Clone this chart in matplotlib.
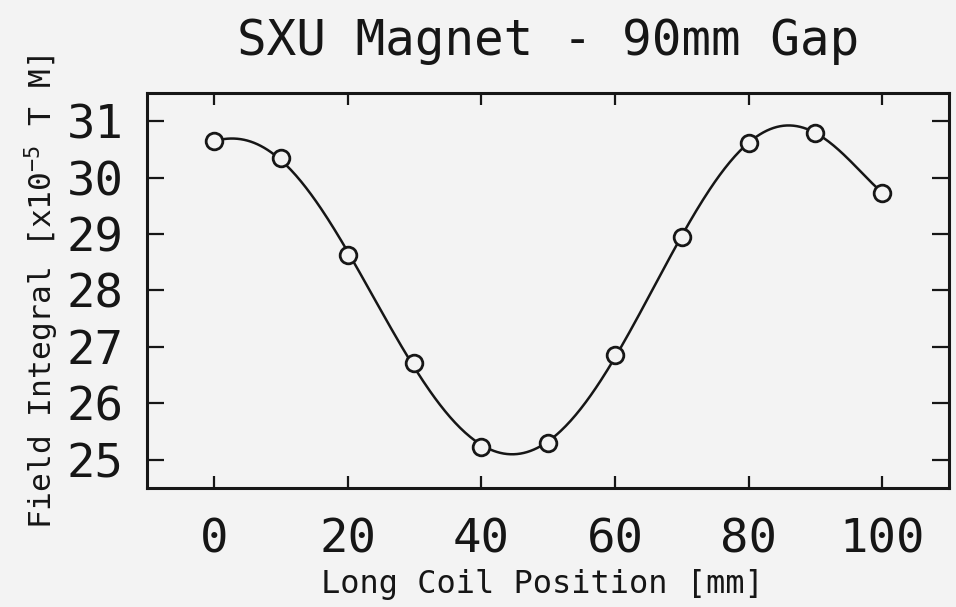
import matplotlib
matplotlib.use("Agg")
import matplotlib.pyplot as plt
import numpy as np

# measured points
position_mm = [0, 10, 20, 30, 40, 50, 60, 70, 80, 90, 100]
field_integral = [30.64, 30.34, 28.62, 26.72, 25.23, 25.30, 26.85, 28.95, 30.62, 30.79, 29.73]

x_ticks = [0, 20, 40, 60, 80, 100]
y_ticks = [25, 26, 27, 28, 29, 30, 31]

ink = "#161616"
paper = "#f3f3f3"

plt.rcParams["font.family"] = ["DejaVu Sans Mono"]
plt.rcParams["mathtext.fontset"] = "custom"
plt.rcParams["mathtext.rm"] = "DejaVu Sans Mono"

fig = plt.figure(figsize=(9.56, 6.07), dpi=100, facecolor=paper)
ax = fig.add_axes([0.1538, 0.196, 0.839, 0.651], facecolor=paper)

# least squares polynomial through the measurements (the smooth curve)
coef = np.polyfit(position_mm, field_integral, 6)
x_fit = np.linspace(position_mm[0], position_mm[-1], 400)
ax.plot(x_fit, np.polyval(coef, x_fit), color=ink, lw=1.8, zorder=2)

ax.plot(position_mm, field_integral, linestyle="none", marker="o", markersize=12,
        markerfacecolor=paper, markeredgecolor=ink, markeredgewidth=2, zorder=3)

ax.set_xlim(-10, 110)
ax.set_ylim(24.5, 31.5)
ax.set_xticks(x_ticks)
ax.set_yticks(y_ticks)
ax.tick_params(axis="both", direction="in", colors=ink, labelsize=34, width=1.6)
ax.tick_params(axis="x", length=8.5, top=True, pad=21)
ax.tick_params(axis="y", length=12, right=True, pad=17)
for s in ax.spines.values():
    s.set_linewidth(2.2)
    s.set_color(ink)

fig.text(0.573, 0.909, "SXU Magnet - 90mm Gap", fontsize=35.5, color=ink,
         ha="center", va="baseline")
fig.text(542 / 956, 1 - 593 / 607, "Long Coil Position [mm]", fontsize=23, color=ink,
         ha="center", va="baseline")
fig.text(52 / 956, 1 - 292 / 607, r"Field Integral [x10$^{-5}$ T M]", fontsize=22.5,
         color=ink, rotation=90, rotation_mode="anchor", ha="center", va="baseline")

fig.savefig("out.png", dpi=100, facecolor=paper)
